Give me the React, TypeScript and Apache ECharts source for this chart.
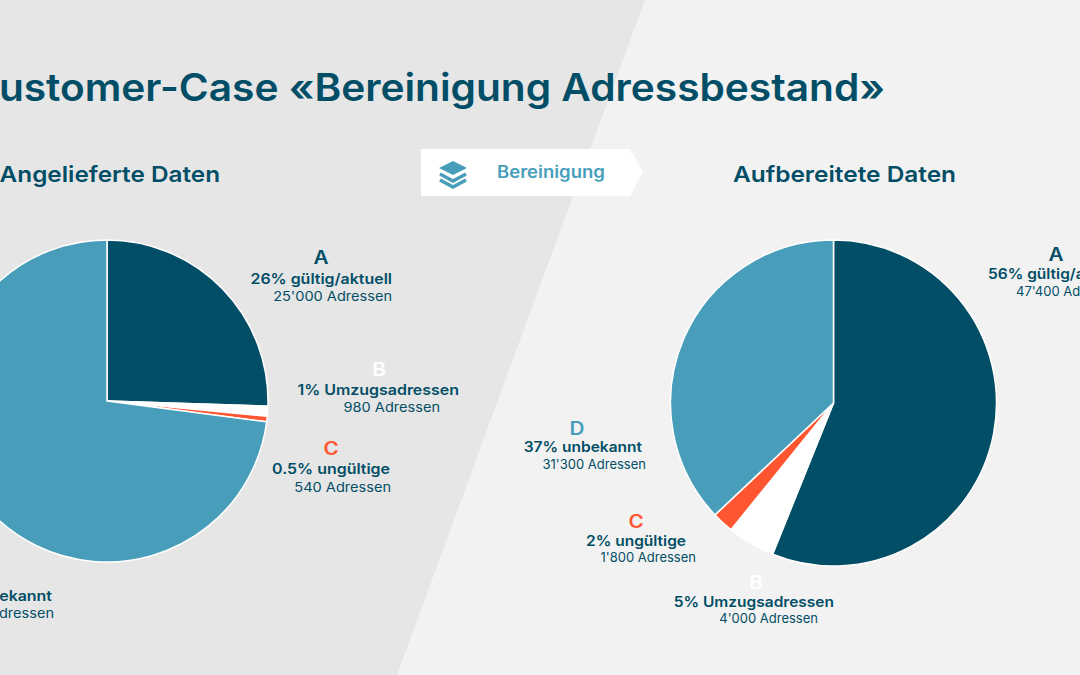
import React, { useEffect, useRef } from "react";
import * as echarts from "echarts";

const categories = ["A", "B", "C", "D"];
const beforeValues = [25000, 980, 540, 71480];
const afterValues = [47400, 4000, 1800, 31300];
const sliceColors = ["#024e66", "#ffffff", "#ff5530", "#489eba"];
const titleText = "Customer-Case «Bereinigung Adressbestand»";
const beforeHeading = "Angelieferte Daten";
const afterHeading = "Aufbereitete Daten";
const stepLabel = "Bereinigung";
const beforeShares = ["26% gültig/aktuell", "1% Umzugsadressen", "0.5% ungültige", "73% unbekannt"];
const beforeCounts = ["25'000 Adressen", "980 Adressen", "540 Adressen", "71'480 Adressen"];
const afterShares = ["56% gültig/aktuell", "5% Umzugsadressen", "2% ungültige", "37% unbekannt"];
const afterCounts = ["47'400 Adressen", "4'000 Adressen", "1'800 Adressen", "31'300 Adressen"];

const DARK = "#024e66";
const BLUE = "#489eba";
const FONT = "Inter";
const letterColors = [DARK, "#ffffff", "#ff5530", BLUE];
const BOLD_L = 1.1;
const SUB_L = 1.12;
const BOLD_R = 1.07;
const SUB_R = 1.0;
const LETTER_SX = 1.15;

function txt(text: string, x: number, y: number, size: number, weight: number, fill: string, align: string, sx = 1) {
  return {
    type: "text", x, y, scaleX: sx, z: 10,
    style: { text, fontFamily: FONT, fontSize: size, fontWeight: weight, fill, align, verticalAlign: "middle" },
  };
}

function pie(name: string, values: number[], center: number[], radius: number) {
  return {
    type: "pie", name, center, radius, startAngle: 90, clockwise: true, silent: true,
    label: { show: false }, labelLine: { show: false },
    itemStyle: { borderColor: "#ffffff", borderWidth: 1.5 },
    data: categories.map((c, i) => ({ name: c, value: values[i], itemStyle: { color: sliceColors[i] } })),
  };
}

export default function App() {
  const ref = useRef<HTMLDivElement>(null);
  useEffect(() => {
    document.body.style.margin = "0";
    const chart = echarts.init(ref.current!, null, { renderer: "svg" });
    const sub = 13, bold = 14.5, letter = 18;
    const graphic: any[] = [
      { type: "rect", shape: { x: 0, y: 0, width: 1080, height: 675 }, style: { fill: "#f2f2f2" }, z: -10 },
      { type: "polygon", shape: { points: [[0, 0], [645, 0], [397, 675], [0, 675]] }, style: { fill: "#e6e6e6" }, z: -9 },
      { type: "polygon", shape: { points: [[421, 149], [630, 149], [643, 172], [630, 196], [421, 196]] }, style: { fill: "#ffffff" }, z: 1 },
      { type: "polygon", shape: { points: [[453, 161], [467, 168], [453, 175], [439, 168]] }, style: { fill: BLUE }, z: 2 },
      { type: "polyline", shape: { points: [[440, 174], [453, 181], [466, 174]] }, style: { stroke: BLUE, lineWidth: 3.5, fill: "none" }, z: 2 },
      { type: "polyline", shape: { points: [[440, 180], [453, 187], [466, 180]] }, style: { stroke: BLUE, lineWidth: 3.5, fill: "none" }, z: 2 },
      txt(titleText, 885, 87, 38, 600, DARK, "right", 1.069),
      txt(beforeHeading, 220, 174, 22, 600, DARK, "right", 1.105),
      txt(afterHeading, 733, 174, 22, 600, DARK, "left", 1.11),
      txt(stepLabel, 497, 172, 17, 600, BLUE, "left", 1.09),
      // before
      txt(categories[0], 321, 258, letter, 600, letterColors[0], "center", LETTER_SX),
      txt(beforeShares[0], 392, 279, bold, 600, DARK, "right", BOLD_L),
      txt(beforeCounts[0], 392, 296, sub, 400, DARK, "right", SUB_L),
      txt(categories[1], 379, 370, letter, 600, letterColors[1], "center", LETTER_SX),
      txt(beforeShares[1], 459, 390, bold, 600, DARK, "right", BOLD_L),
      txt(beforeCounts[1], 440, 407, sub, 400, DARK, "right", SUB_L),
      txt(categories[2], 331, 449, letter, 600, letterColors[2], "center", LETTER_SX),
      txt(beforeShares[2], 390, 469, bold, 600, DARK, "right", BOLD_L),
      txt(beforeCounts[2], 391, 487, sub, 400, DARK, "right", SUB_L),
      txt(beforeShares[3], 52, 596, bold, 600, DARK, "right", BOLD_L),
      txt(beforeCounts[3], 54, 613, sub, 400, DARK, "right", SUB_L),
      // after
      txt(categories[0], 1056, 255, letter, 600, letterColors[0], "center", LETTER_SX),
      txt(afterShares[0], 988, 274, bold, 600, DARK, "left", BOLD_R),
      txt(afterCounts[0], 1016, 291, sub, 400, DARK, "left", SUB_R),
      txt(categories[3], 577, 429, letter, 600, letterColors[3], "center", LETTER_SX),
      txt(afterShares[3], 642, 447, bold, 600, DARK, "right", BOLD_R),
      txt(afterCounts[3], 646, 464, sub, 400, DARK, "right", SUB_R),
      txt(categories[2], 636, 522, letter, 600, letterColors[2], "center", LETTER_SX),
      txt(afterShares[2], 686, 541, bold, 600, DARK, "right", BOLD_R),
      txt(afterCounts[2], 696, 557, sub, 400, DARK, "right", SUB_R),
      txt(categories[1], 756, 583, letter, 600, letterColors[1], "center", LETTER_SX),
      txt(afterShares[1], 834, 602, bold, 600, DARK, "right", BOLD_R),
      txt(afterCounts[1], 818, 618, sub, 400, DARK, "right", SUB_R),
    ];
    chart.setOption({
      animation: false,
      graphic,
      series: [pie("Angelieferte Daten", beforeValues, [107, 401], 161), pie("Aufbereitete Daten", afterValues, [833.5, 403], 163)],
    });
    return () => chart.dispose();
  }, []);
  return <div ref={ref} style={{ width: 1080, height: 675 }} />;
}
